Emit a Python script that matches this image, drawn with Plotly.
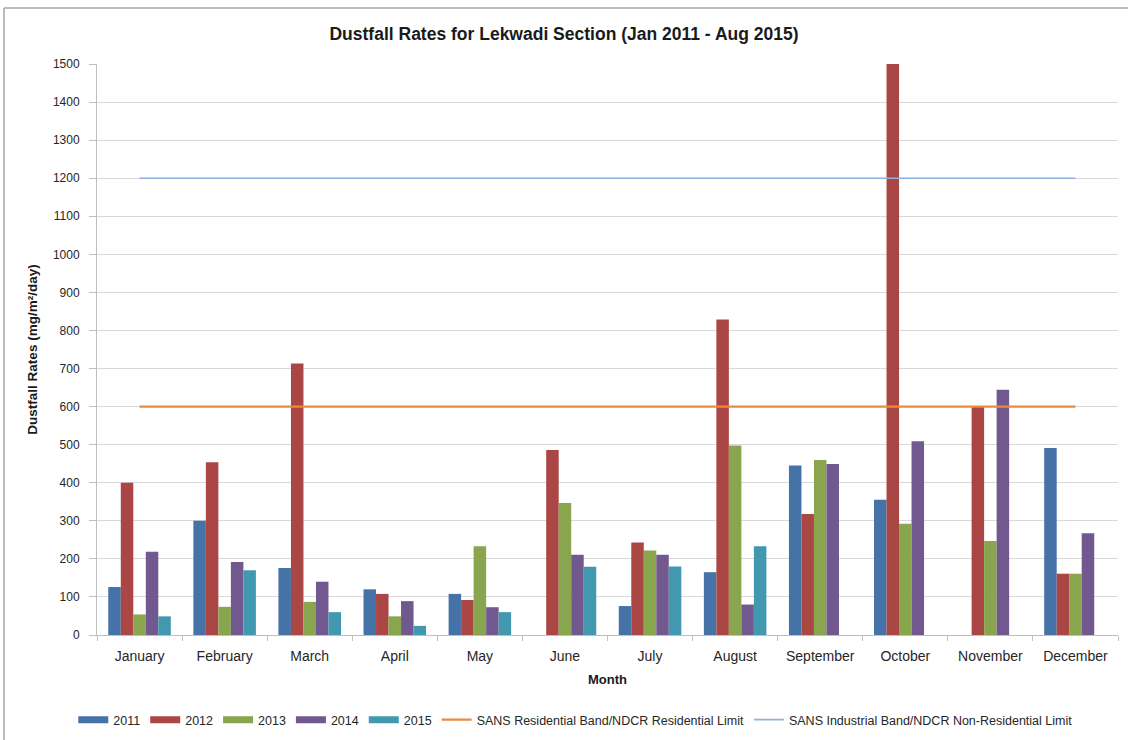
import plotly.graph_objects as go

months = ["January", "February", "March", "April", "May", "June", "July",
          "August", "September", "October", "November", "December"]

# Monthly dustfall rates (mg/m²/day); None = no sample that month
y2011 = [126, 300, 176, 120, 108, None, 76, 165, 445, 355, None, 491]
y2012 = [400, 454, 713, 108, 92, 486, 243, 829, 318, 1500, 600, 161]
y2013 = [54, 74, 87, 49, 233, 347, 222, 498, 460, 292, 247, 161]
y2014 = [219, 192, 140, 89, 73, 211, 211, 80, 449, 509, 644, 267]
y2015 = [49, 170, 60, 24, 60, 179, 180, 233, None, None, None, None]

residential_limit = 600
industrial_limit = 1200

yticks = list(range(0, 1501, 100))

series = [
    ("2011", y2011, "#4572A7"),
    ("2012", y2012, "#AA4643"),
    ("2013", y2013, "#89A54E"),
    ("2014", y2014, "#71588F"),
    ("2015", y2015, "#4198AF"),
]

font_family = "Liberation Sans, Arial, sans-serif"

fig = go.Figure()
for name, vals, color in series:
    fig.add_trace(go.Bar(x=months, y=vals, name=name, legendgroup=name,
                         showlegend=False,
                         marker=dict(color=color, line=dict(width=0))))
    # wide swatch for the legend entry
    fig.add_trace(go.Scatter(x=[None], y=[None], mode="lines", name=name,
                             legendgroup=name,
                             line=dict(color=color, width=7)))

fig.add_trace(go.Scatter(x=months, y=[residential_limit] * len(months),
                         mode="lines", name="SANS Residential Band/NDCR Residential Limit",
                         line=dict(color="#EC8A3C", width=2.2)))
fig.add_trace(go.Scatter(x=months, y=[industrial_limit] * len(months),
                         mode="lines", name="SANS Industrial Band/NDCR Non-Residential Limit",
                         line=dict(color="#8FB0DC", width=1.6)))

fig.update_layout(
    width=1128, height=740,
    margin=dict(l=97, r=10, t=64, b=105),
    paper_bgcolor="white", plot_bgcolor="white",
    font=dict(family=font_family, color="#262626", size=12),
    barmode="group", bargap=0.265, bargroupgap=0,
    title=dict(text="<b>Dustfall Rates for Lekwadi Section (Jan 2011 - Aug 2015)</b>",
               x=0.5, xref="container", xanchor="center",
               y=1 - 34 / 740, yref="container", yanchor="middle",
               font=dict(size=17.5, color="#1a1a1a")),
    xaxis=dict(
        title=dict(text="<b>Month</b>", font=dict(size=13, color="#1a1a1a"), standoff=12),
        tickfont=dict(size=14, color="#262626"), tickangle=0,
        showgrid=False, showline=True, linecolor="#BFBFBF", linewidth=1,
        ticks="outside", tickson="boundaries", ticklen=5, tickcolor="#BFBFBF",
        ticklabelstandoff=8,
    ),
    yaxis=dict(
        title=dict(text="<b>Dustfall Rates (mg/m²/day)</b>", font=dict(size=13.5, color="#1a1a1a"),
                   standoff=12),
        range=[0, 1500], tickvals=yticks, tickfont=dict(size=12, color="#262626"),
        showgrid=True, gridcolor="#D9D9D9", gridwidth=1,
        showline=True, linecolor="#BFBFBF", linewidth=1,
        ticks="outside", ticklen=7, tickcolor="#BFBFBF", zeroline=False,
        ticklabelstandoff=7,
    ),
    legend=dict(orientation="h", xref="container", yref="container",
                x=0.51, xanchor="center", y=1 - 720 / 740, yanchor="middle",
                font=dict(size=12.5, color="#262626"), itemwidth=30,
                tracegroupgap=0),
    shapes=[
        dict(type="line", xref="paper", yref="paper",
             x0=(4 - 97) / 1021, x1=1.05, y0=(635 - 8) / 571, y1=(635 - 8) / 571,
             line=dict(color="#A6A6A6", width=1.5)),
        dict(type="line", xref="paper", yref="paper",
             x0=(4 - 97) / 1021, x1=(4 - 97) / 1021, y0=(635 - 8) / 571, y1=-0.3,
             line=dict(color="#A6A6A6", width=1.5)),
    ],
)

fig.write_html("out.html")
